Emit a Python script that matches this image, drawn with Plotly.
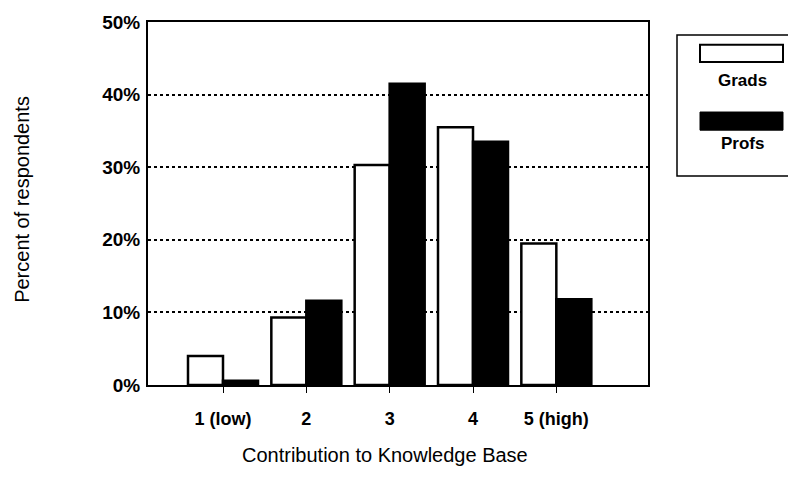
import plotly.graph_objects as go

categories = [1, 2, 3, 4, 5]
tick_labels = ["1 (low)", "2", "3", "4", "5 (high)"]
grads = [4, 9.3, 30.3, 35.5, 19.5]
profs = [0.6, 11.6, 41.5, 33.5, 11.8]

FONT = "Liberation Sans, Arial, sans-serif"
font = dict(family=FONT, size=18, color="black")

fig = go.Figure()
fig.add_trace(go.Bar(x=categories, y=grads, name="Grads",
                     marker=dict(color="white", line=dict(color="black", width=2.5))))
fig.add_trace(go.Bar(x=categories, y=profs, name="Profs",
                     marker=dict(color="black", line=dict(color="black", width=2.5))))

fig.update_layout(
    width=788, height=469,
    margin=dict(l=140, r=148, t=14, b=92),
    paper_bgcolor="white", plot_bgcolor="white",
    barmode="group", bargap=0.16, bargroupgap=0,
    showlegend=False,
    font=font,
    xaxis=dict(range=[0.1, 6.1], tickmode="array", tickvals=categories, ticktext=tick_labels,
               showline=True, linecolor="black", linewidth=2, mirror=True,
               ticks="outside", ticklen=6, tickcolor="black", tickwidth=1,
               ticklabelstandoff=10, automargin=False,
               showgrid=False, zeroline=False,
               tickfont=dict(family=FONT, size=18, weight="bold")),
    yaxis=dict(range=[0, 50], tickvals=[0, 10, 20, 30, 40, 50],
               ticktext=["0%", "10%", "20%", "30%", "40%", "50%"],
               showline=True, linecolor="black", linewidth=2, mirror=True,
               ticks="", showgrid=True, gridcolor="black", griddash="dot", gridwidth=1.5,
               zeroline=False, ticklabelstandoff=2, automargin=False,
               tickfont=dict(family=FONT, size=19, weight="bold")),
)

# Axis titles
fig.add_annotation(text="Percent of respondents", xref="paper", yref="paper",
                   x=-0.252, y=0.51, textangle=-90, showarrow=False,
                   font=dict(size=20), xanchor="center", yanchor="middle")
fig.add_annotation(text="Contribution to Knowledge Base", xref="paper", yref="paper",
                   x=0.474, y=-0.193, showarrow=False, font=dict(size=20),
                   xanchor="center", yanchor="middle")

# Custom legend (swatch above label)
fig.add_shape(type="rect", xref="paper", yref="paper", x0=1.058, x1=1.288, y0=0.576, y1=0.964,
              line=dict(color="black", width=1.5), fillcolor="white")
fig.add_shape(type="rect", xref="paper", yref="paper", x0=1.104, x1=1.27, y0=0.890, y1=0.937,
              line=dict(color="black", width=2), fillcolor="white")
fig.add_annotation(text="Grads", xref="paper", yref="paper", x=1.188, y=0.840, showarrow=False,
                   font=dict(size=17, weight="bold"), xanchor="center", yanchor="middle")
fig.add_shape(type="rect", xref="paper", yref="paper", x0=1.104, x1=1.27, y0=0.702, y1=0.752,
              line=dict(color="black", width=1), fillcolor="black")
fig.add_annotation(text="Profs", xref="paper", yref="paper", x=1.188, y=0.664, showarrow=False,
                   font=dict(size=17, weight="bold"), xanchor="center", yanchor="middle")

fig.write_html("out.html")
